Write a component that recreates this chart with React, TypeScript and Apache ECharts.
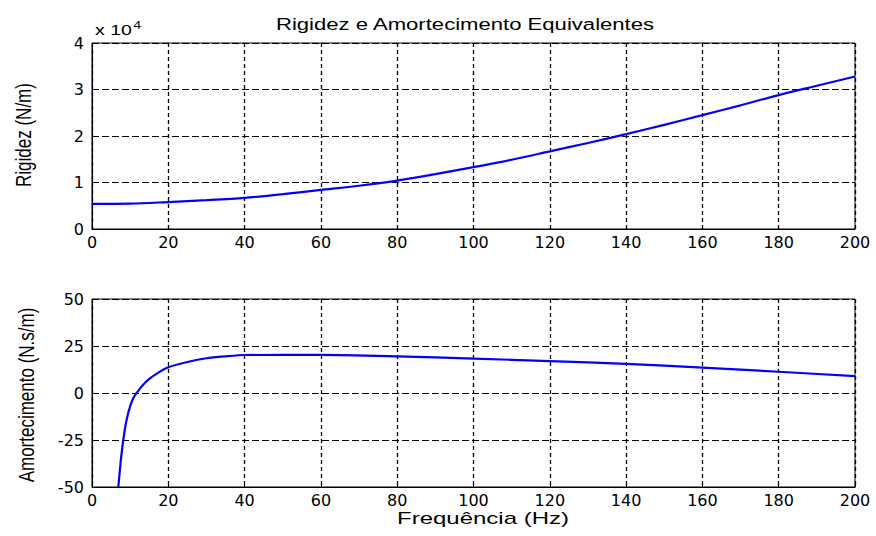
import React, { useEffect, useRef } from "react";
import * as echarts from "echarts";

// Frequency grid (Hz) and equivalent stiffness (N/m)
const freqStiff = [0, 10, 20, 30, 40, 50, 60, 70, 80, 90, 100, 110, 120, 130, 140, 150, 160, 170, 180, 190, 200];
const stiffness = [5400, 5450, 5800, 6200, 6700, 7500, 8400, 9300, 10400, 11800, 13300, 14900, 16700, 18500, 20400, 22400, 24500, 26600, 28800, 30800, 32800];

// Frequency grid (Hz) and equivalent damping (N.s/m)
const freqDamp = [6.9, 7.5, 8.2, 9, 10, 11, 11.7, 13, 15, 17.5, 20, 25, 30, 35, 40, 60, 80, 100, 120, 140, 160, 180, 200];
const damping = [-50, -37, -25, -15, -7, -2, 0, 3.5, 7.5, 11, 13.7, 16.5, 18.5, 19.5, 20.2, 20.3, 19.5, 18.3, 17, 15.5, 13.5, 11.3, 9];

const xTicks = [0, 20, 40, 60, 80, 100, 120, 140, 160, 180, 200];

const FONT = "Liberation Sans, Arial, Helvetica, sans-serif";
const TICK_FONT = "DejaVu Sans, Liberation Sans, sans-serif";

export default function App() {
  const ref = useRef<HTMLDivElement>(null);

  useEffect(() => {
    if (!ref.current) return;
    const chart = echarts.init(ref.current, undefined, { renderer: "svg" });

    const xAxisBase = (gridIndex: number) => ({
      type: "value" as const,
      gridIndex,
      min: xTicks[0],
      max: xTicks[xTicks.length - 1],
      interval: 20,
      axisLine: { show: true, onZero: false, lineStyle: { color: "#000" } },
      axisTick: { show: true, inside: true, length: 4, lineStyle: { color: "#000" } },
      axisLabel: { color: "#000", fontFamily: TICK_FONT, fontSize: 16, margin: 5 },
      splitLine: { show: true, lineStyle: { color: "#000", width: 1.3, type: [4, 3] } },
    });

    const yAxisBase = (gridIndex: number, min: number, max: number, interval: number, fmt?: (v: number) => string) => ({
      type: "value" as const,
      gridIndex,
      min,
      max,
      interval,
      axisLine: { show: true, onZero: false, lineStyle: { color: "#000" } },
      axisTick: { show: true, inside: true, length: 4, lineStyle: { color: "#000" } },
      axisLabel: { color: "#000", fontFamily: TICK_FONT, fontSize: 16, margin: 8, formatter: fmt },
      splitLine: { show: true, lineStyle: { color: "#000", width: 1, type: [7, 3] } },
    });

    const label = (text: string, x: number, y: number, size: number, sx: number) => ({
      type: "text" as const,
      x,
      y,
      scaleX: sx,
      style: {
        text,
        fill: "#000",
        font: `${size}px ${FONT}`,
        align: "center" as const,
        verticalAlign: "middle" as const,
      },
    });

    const vLabel = (text: string, x: number, y: number) => ({
      type: "text" as const,
      x,
      y,
      rotation: Math.PI / 2,
      scaleY: 1.25,
      style: {
        text,
        fill: "#000",
        font: `17px ${FONT}`,
        align: "center" as const,
        verticalAlign: "middle" as const,
      },
    });

    chart.setOption({
      animation: false,
      backgroundColor: "#fff",
      graphic: [
        label("Rigidez e Amortecimento Equivalentes", 465, 24, 17, 1.3),
        label("Frequência (Hz)", 483, 519, 16, 1.5),
        vLabel("Rigidez (N/m)", 24, 135),
        vLabel("Amortecimento (N.s/m)", 27, 395),
        {
          type: "text",
          x: 95,
          y: 20,
          scaleX: 1.3,
          style: {
            text: "x 10{sup|4}",
            fill: "#000",
            font: `15px ${FONT}`,
            rich: { sup: { fontSize: 11, verticalAlign: "top", padding: [0, 0, 9, 1], fill: "#000", fontFamily: FONT } },
          },
        },
      ],
      grid: [
        { left: 92, top: 43, width: 763, height: 186, show: true, borderColor: "#000", borderWidth: 1 },
        { left: 92, top: 299, width: 763, height: 188, show: true, borderColor: "#000", borderWidth: 1 },
      ],
      xAxis: [xAxisBase(0), xAxisBase(1)],
      yAxis: [
        yAxisBase(0, 0, 40000, 10000, (v: number) => String(v / 10000)),
        yAxisBase(1, -50, 50, 25),
      ],
      series: [
        {
          type: "line",
          xAxisIndex: 0,
          yAxisIndex: 0,
          data: freqStiff.map((f, i) => [f, stiffness[i]]),
          showSymbol: false,
          smooth: 0.3,
          lineStyle: { color: "#0000ff", width: 2.2 },
          clip: true,
        },
        {
          type: "line",
          xAxisIndex: 1,
          yAxisIndex: 1,
          data: freqDamp.map((f, i) => [f, damping[i]]),
          showSymbol: false,
          smooth: 0.25,
          lineStyle: { color: "#0000ff", width: 2.2 },
          clip: true,
        },
      ],
    });

    return () => chart.dispose();
  }, []);

  return (
    <div
      ref={ref}
      style={{ position: "fixed", left: 0, top: 0, width: 876, height: 536, background: "#fff" }}
    />
  );
}
